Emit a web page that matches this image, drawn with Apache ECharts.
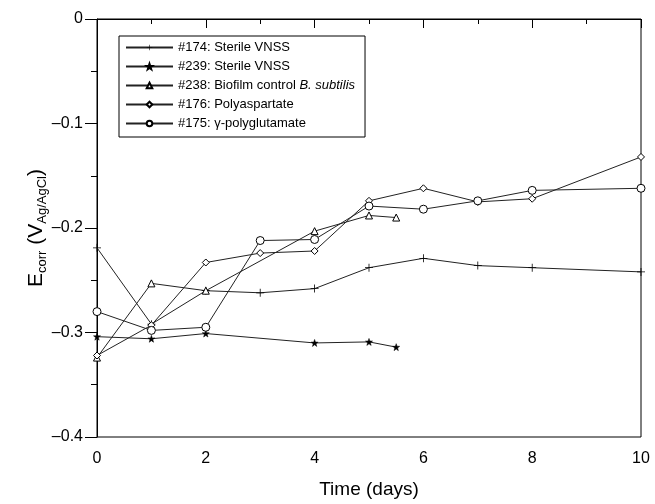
<!DOCTYPE html>
<html>
<head>
<meta charset="utf-8">
<script src="https://cdn.jsdelivr.net/npm/echarts@6/dist/echarts.min.js"></script>
<style>
html,body{margin:0;padding:0;background:#fff;}
#main{width:655px;height:504px;}
</style>
</head>
<body>
<div id="main"></div>
<script>
// 数据
var names = ['#174: Sterile VNSS', '#239: Sterile VNSS', '#238: Biofilm control B. subtilis', '#176: Polyaspartate', '#175: γ-polyglutamate'];
var days174 = [0, 1, 2, 3, 4, 5, 6, 7, 8, 10];
var vals174 = [-0.219, -0.292, -0.260, -0.262, -0.258, -0.238, -0.229, -0.236, -0.238, -0.242];
var days239 = [0, 1, 2, 4, 5, 5.5];
var vals239 = [-0.304, -0.306, -0.301, -0.310, -0.309, -0.314];
var days238 = [0, 1, 2, 4, 5, 5.5];
var vals238 = [-0.324, -0.253, -0.260, -0.203, -0.188, -0.190];
var days176 = [0, 1, 2, 3, 4, 5, 6, 7, 8, 10];
var vals176 = [-0.322, -0.293, -0.233, -0.224, -0.222, -0.174, -0.162, -0.175, -0.172, -0.132];
var days175 = [0, 1, 2, 3, 4, 5, 6, 7, 8, 10];
var vals175 = [-0.280, -0.298, -0.295, -0.212, -0.211, -0.179, -0.182, -0.174, -0.164, -0.162];

function pairs(xs, ys){
	var arr = [];
	for (var i = 0; i < xs.length; i++) {
		arr.push([xs[i], ys[i]]);
	}
	return arr;
}

var FONT = '"Liberation Sans", Arial, sans-serif';
var plus = 'path://M-0.5,-5h1v4.5h4.5v1h-4.5v4.5h-1v-4.5h-4.5v-1h4.5z';
var star = 'path://M0,-5L1.18,-1.62L4.76,-1.55L1.9,0.62L2.94,4.05L0,2L-2.94,4.05L-1.9,0.62L-4.76,-1.55L-1.18,-1.62Z';

function line(name, data, symbol, size, fill, bw){
	return {
		name: name,
		type: 'line',
		data: data,
		symbol: symbol,
		symbolSize: size,
		showAllSymbol: true,
		animation: false,
		lineStyle: { color: '#222', width: 1 },
		itemStyle: { color: fill, borderColor: '#000', borderWidth: bw }
	};
}

var myChart = echarts.init(document.getElementById('main'));
var option = {
	backgroundColor: '#fff',
	textStyle: { fontFamily: FONT },
	grid: { left: 97, right: 14, top: 19, bottom: 67, show: true, borderColor: '#000', borderWidth: 1 },
	legend: {
		orient: 'vertical',
		left: 119,
		top: 36,
		itemWidth: 47,
		itemHeight: 7,
		itemGap: 6,
		padding: [5, 10, 7, 6],
		borderColor: '#000',
		borderWidth: 1,
		data: names,
		formatter: function(n){
			return n.replace('B. subtilis', '{i|B. subtilis}');
		},
		textStyle: {
			fontFamily: FONT,
			fontSize: 13,
			color: '#000',
			rich: { i: { fontStyle: 'italic', fontSize: 13, fontFamily: FONT, color: '#000' } }
		}
	},
	xAxis: {
		type: 'value',
		min: 0,
		max: 10,
		interval: 2,
		name: 'Time (days)',
		nameLocation: 'middle',
		nameGap: 43,
		nameTextStyle: { fontSize: 19, color: '#000', fontFamily: FONT },
		axisLine: { lineStyle: { color: '#000', width: 1 } },
		axisTick: { length: 9, lineStyle: { color: '#000' } },
		minorTick: { show: true, splitNumber: 2, length: 5, lineStyle: { color: '#000' } },
		splitLine: { show: false },
		axisLabel: { fontSize: 16, color: '#000', margin: 14 }
	},
	yAxis: {
		type: 'value',
		min: -0.4,
		max: 0,
		interval: 0.1,
		name: '{m|E}{s|corr}{m| (V}{s|Ag/AgCl}{m|)}',
		nameLocation: 'middle',
		nameGap: 48,
		nameMoveOverlap: false,
		nameTextStyle: {
			color: '#000',
			rich: {
				m: { fontSize: 21, fontFamily: FONT, color: '#000', lineHeight: 26, verticalAlign: 'middle' },
				s: { fontSize: 13, fontFamily: FONT, color: '#000', lineHeight: 26, padding: [12, 0, 0, 0], verticalAlign: 'middle' }
			}
		},
		axisLine: { show: true, lineStyle: { color: '#000', width: 1 } },
		axisTick: { show: true, length: 12, lineStyle: { color: '#000' } },
		minorTick: { show: true, splitNumber: 2, length: 6, lineStyle: { color: '#000' } },
		splitLine: { show: false },
		axisLabel: {
			fontSize: 16,
			color: '#000',
			margin: 14,
			formatter: function(v){
				if (v === 0) return '0';
				return v.toFixed(1).replace('-', '\u2013');
			}
		}
	},
	series: [
		line(names[0], pairs(days174, vals174), plus, 8, '#000', 0),
		line(names[1], pairs(days239, vals239), star, 7, '#000', 0.5),
		line(names[2], pairs(days238, vals238), 'triangle', 7, '#fff', 1),
		line(names[3], pairs(days176, vals176), 'diamond', 7, '#fff', 1),
		line(names[4], pairs(days175, vals175), 'circle', 8, '#fff', 1)
	]
};
myChart.setOption(option);
</script>
</body>
</html>
